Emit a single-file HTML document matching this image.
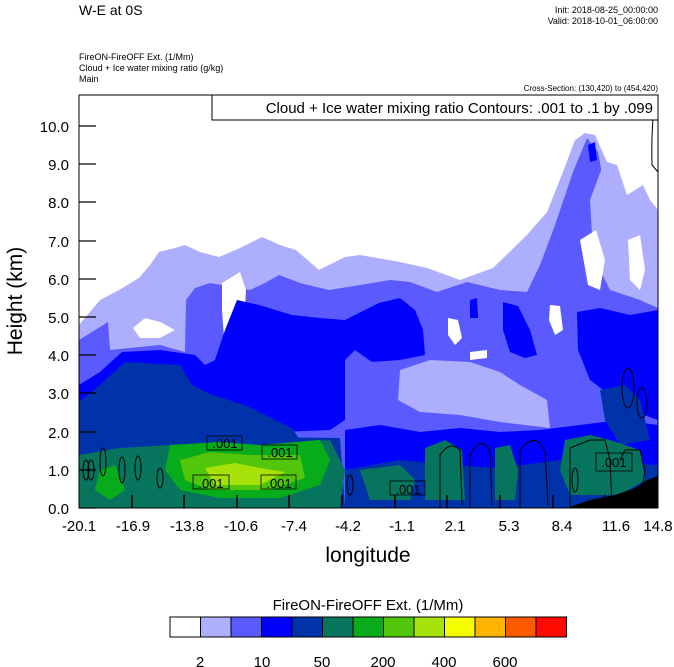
<!DOCTYPE html>
<html><head><style>
body{margin:0;background:#fff;width:674px;height:667px;overflow:hidden;font-family:"Liberation Sans",sans-serif}
svg{position:absolute;left:0;top:0}
text{font-family:"Liberation Sans",sans-serif}
</style></head><body>
<svg width="674" height="667" viewBox="0 0 674 667">
<defs><clipPath id="c"><rect x="79" y="95" width="579" height="413"/></clipPath></defs>
<text x="79" y="15" font-size="14">W-E at 0S</text>
<text x="658" y="13" font-size="9" text-anchor="end">Init: 2018-08-25_00:00:00</text>
<text x="658" y="24" font-size="9" text-anchor="end">Valid: 2018-10-01_06:00:00</text>
<text x="79" y="60" font-size="9">FireON-FireOFF Ext.   (1/Mm)</text>
<text x="79" y="71" font-size="9">Cloud + Ice water mixing ratio   (g/kg)</text>
<text x="79" y="82" font-size="9">Main</text>
<text x="658" y="91" font-size="8" text-anchor="end">Cross-Section: (130,420) to (454,420)</text>
<g clip-path="url(#c)">
<rect x="79" y="95" width="579" height="413" fill="#fff"/>
<path d="M79,325 L100,300 L119,290 L139,278 L150,265 L159,252 L175,248 L185,245 L200,252 L219,257 L240,248 L262,237 L280,245 L296,250 L319,270 L345,257 L360,255 L400,262 L427,268 L460,280 L493,268 L527,235 L547,212 L563,172 L575,140 L585,133 L595,135 L607,162 L617,165 L627,195 L643,185 L650,200 L658,210 L658,508 L79,508Z" fill="#aeaefe"/>
<path d="M79,340 L108,322 L110,350 L130,348 L160,345 L185,352 L186,300 L195,288 L210,283 L250,290 L265,283 L279,275 L300,283 L329,290 L360,285 L390,280 L410,282 L437,292 L467,282 L500,290 L527,292 L540,265 L555,225 L573,172 L587,138 L598,152 L605,190 L600,230 L595,260 L610,290 L640,300 L658,308 L658,508 L79,508Z" fill="#5a5afe"/>
<path d="M400,370 L430,360 L470,362 L500,372 L520,385 L547,400 L550,428 L500,422 L460,415 L420,412 L398,400Z" fill="#aeaefe"/>
<path d="M590,200 L603,165 L610,200 L612,240 L600,250 L592,235Z" fill="#aeaefe"/>
<path d="M222,283 L240,272 L246,290 L244,330 L236,342 L224,338 L222,310Z" fill="#fff"/>
<path d="M133,328 L145,318 L160,322 L175,330 L160,338 L140,338Z" fill="#fff"/>
<path d="M448,318 L458,320 L462,338 L455,345 L448,335Z" fill="#fff"/>
<path d="M470,352 L487,350 L487,358 L470,360Z" fill="#fff"/>
<path d="M550,305 L560,306 L563,330 L555,335 L549,320Z" fill="#fff"/>
<path d="M580,240 L596,230 L605,260 L600,290 L588,285Z" fill="#fff"/>
<path d="M628,240 L640,235 L645,270 L640,290 L630,280Z" fill="#fff"/>
<path d="M79,385 L100,372 L122,352 L160,350 L195,355 L205,365 L215,360 L225,330 L237,300 L259,305 L292,315 L320,318 L345,320 L379,303 L400,298 L415,310 L423,330 L425,355 L400,360 L372,362 L355,350 L345,360 L345,420 L330,430 L79,440Z" fill="#0000fe"/>
<path d="M503,302 L518,306 L530,330 L537,355 L525,358 L510,352 L503,330Z" fill="#0000fe"/>
<path d="M470,300 L477,298 L478,318 L470,318Z" fill="#0000fe"/>
<path d="M577,312 L600,308 L630,315 L658,310 L658,420 L630,410 L610,395 L590,380 L578,350Z" fill="#0000fe"/>
<path d="M588,145 L595,142 L597,160 L590,162Z" fill="#0000fe"/>
<path d="M345,430 L380,425 L420,432 L460,428 L500,432 L540,430 L580,425 L620,420 L658,425 L658,508 L345,508Z" fill="#0000fe"/>
<path d="M79,402 L100,385 L125,362 L180,365 L192,385 L212,395 L245,405 L279,422 L292,428 L300,440 L79,440Z" fill="#0033aa"/>
<path d="M600,390 L625,385 L640,400 L650,440 L620,445 L605,420Z" fill="#0033aa"/>
<path d="M79,435 L340,438 L345,508 L79,508Z" fill="#0033aa"/>
<path d="M345,470 L400,460 L450,465 L500,468 L560,460 L658,465 L658,508 L345,508Z" fill="#0033aa"/>
<path d="M79,455 L120,448 L170,445 L250,448 L330,440 L345,470 L340,508 L79,508Z" fill="#07745e"/>
<path d="M425,448 L445,440 L462,450 L465,500 L425,500Z" fill="#07745e"/>
<path d="M495,448 L510,445 L518,470 L515,500 L495,500Z" fill="#07745e"/>
<path d="M565,440 L590,435 L610,440 L640,450 L645,480 L620,495 L570,495 L560,470Z" fill="#07745e"/>
<path d="M360,470 L400,465 L415,480 L410,500 L370,500Z" fill="#07745e"/>
<path d="M170,445 L220,442 L260,445 L320,440 L330,460 L320,485 L280,498 L220,498 L180,490 L165,470Z" fill="#08ab1a"/>
<path d="M100,470 L115,465 L125,490 L110,500 L95,490Z" fill="#08ab1a"/>
<path d="M180,460 L210,452 L250,455 L300,455 L305,478 L270,490 L210,490 L185,480Z" fill="#52c60a"/>
<path d="M205,468 L235,463 L260,468 L285,472 L260,485 L215,485Z" fill="#a6e20a"/>
<path d="M567,508 L590,500 L615,495 L635,488 L647,480 L658,476 L658,508Z" fill="#000"/>
<g fill="none" stroke="#000" stroke-width="1">
<path d="M655,97 Q651,130 652,165 L658,172"/>
<ellipse cx="628" cy="388" rx="6" ry="20"/><ellipse cx="642" cy="403" rx="5" ry="15"/>
<ellipse cx="103" cy="462" rx="3" ry="14"/><ellipse cx="122" cy="470" rx="3" ry="13"/>
<ellipse cx="138" cy="468" rx="3" ry="12"/><ellipse cx="160" cy="478" rx="3" ry="10"/>
<ellipse cx="86" cy="470" rx="3" ry="10"/><ellipse cx="91" cy="470" rx="3" ry="10"/>
<ellipse cx="575" cy="480" rx="3" ry="12"/><ellipse cx="350" cy="485" rx="3" ry="10"/>
<path d="M440,508 L440,455 Q450,440 460,450 L462,505"/>
<path d="M470,508 L470,455 Q480,435 490,450 L492,505"/>
<path d="M520,508 L520,450 Q535,430 545,452 L548,505"/>
<path d="M570,508 L570,448 L590,440 L605,440 L610,460 L612,505"/>
<path d="M620,460 L625,450 L640,450 L645,470 L640,505"/>
</g>
<g stroke="#000" stroke-width="1.5">
<line x1="132" y1="508" x2="132" y2="495"/><line x1="184" y1="508" x2="184" y2="495"/><line x1="237" y1="508" x2="237" y2="495"/><line x1="289" y1="508" x2="289" y2="495"/><line x1="342" y1="508" x2="342" y2="495"/><line x1="395" y1="508" x2="395" y2="495"/><line x1="447" y1="508" x2="447" y2="495"/><line x1="500" y1="508" x2="500" y2="495"/><line x1="553" y1="508" x2="553" y2="495"/><line x1="605" y1="508" x2="605" y2="495"/>
</g>
</g>
<rect x="79" y="95" width="579" height="413" fill="none" stroke="#000" stroke-width="1"/>
<rect x="212" y="95" width="446" height="25" fill="#fff" stroke="#000"/>
<text x="653" y="113" font-size="15" text-anchor="end">Cloud + Ice water mixing ratio Contours: .001 to .1 by .099</text>
<g fill="none" stroke="#000" stroke-width=".8">
<rect x="207" y="436" width="35" height="14"/><rect x="262" y="445" width="35" height="14"/>
<rect x="193" y="475" width="36" height="14"/><rect x="261" y="475" width="35" height="14"/>
<rect x="390" y="481" width="35" height="14"/><rect x="596" y="453" width="36" height="18"/>
</g>
<g font-size="13" text-anchor="middle">
<text x="225" y="448">.001</text><text x="280" y="457">.001</text><text x="211" y="488">.001</text>
<text x="279" y="488">.001</text><text x="408" y="494">.001</text><text x="614" y="467">.001</text>
</g>
<g stroke="#000" stroke-width="1.2">
<line x1="79" y1="508" x2="96" y2="508"/><line x1="79" y1="470" x2="96" y2="470"/><line x1="79" y1="432" x2="96" y2="432"/><line x1="79" y1="393" x2="96" y2="393"/><line x1="79" y1="355" x2="96" y2="355"/><line x1="79" y1="317" x2="96" y2="317"/><line x1="79" y1="279" x2="96" y2="279"/><line x1="79" y1="241" x2="96" y2="241"/><line x1="79" y1="202" x2="96" y2="202"/><line x1="79" y1="164" x2="96" y2="164"/><line x1="79" y1="126" x2="96" y2="126"/>
</g>
<g font-size="15" text-anchor="end">
<text x="69" y="514">0.0</text><text x="69" y="476">1.0</text><text x="69" y="438">2.0</text><text x="69" y="399">3.0</text><text x="69" y="361">4.0</text><text x="69" y="323">5.0</text><text x="69" y="285">6.0</text><text x="69" y="247">7.0</text><text x="69" y="208">8.0</text><text x="69" y="170">9.0</text><text x="69" y="132">10.0</text>
</g>
<g font-size="15" text-anchor="middle">
<text x="79" y="531">-20.1</text><text x="133" y="531">-16.9</text><text x="187" y="531">-13.8</text><text x="241" y="531">-10.6</text><text x="294" y="531">-7.4</text><text x="348" y="531">-4.2</text><text x="402" y="531">-1.1</text><text x="455" y="531">2.1</text><text x="509" y="531">5.3</text><text x="562" y="531">8.4</text><text x="616" y="531">11.6</text><text x="658" y="531">14.8</text>
</g>
<text x="368" y="562" font-size="21" text-anchor="middle">longitude</text>
<text transform="translate(22,301) rotate(-90)" font-size="21" text-anchor="middle">Height (km)</text>
<text x="368" y="610" font-size="15" text-anchor="middle">FireON-FireOFF Ext.  (1/Mm)</text>
<g stroke="#000" stroke-width="1">
<rect x="170" y="617" width="30.5" height="20" fill="#fff"/>
<rect x="200.5" y="617" width="30.5" height="20" fill="#aeaefe"/>
<rect x="231" y="617" width="30.5" height="20" fill="#5a5afe"/>
<rect x="261.5" y="617" width="30.5" height="20" fill="#0000fe"/>
<rect x="292" y="617" width="30.5" height="20" fill="#0033aa"/>
<rect x="322.5" y="617" width="30.5" height="20" fill="#07745e"/>
<rect x="353" y="617" width="30.5" height="20" fill="#08ab1a"/>
<rect x="383.5" y="617" width="30.5" height="20" fill="#52c60a"/>
<rect x="414" y="617" width="30.5" height="20" fill="#a6e20a"/>
<rect x="444.5" y="617" width="30.5" height="20" fill="#f4fe00"/>
<rect x="475" y="617" width="30.5" height="20" fill="#ffb400"/>
<rect x="505.5" y="617" width="30.5" height="20" fill="#ff5a00"/>
<rect x="536" y="617" width="30.5" height="20" fill="#ff0a00"/>
</g>
<g font-size="15" text-anchor="middle">
<text x="200" y="667">2</text><text x="262" y="667">10</text><text x="322" y="667">50</text><text x="383" y="667">200</text><text x="444" y="667">400</text><text x="505" y="667">600</text>
</g>
</svg>
</body></html>
